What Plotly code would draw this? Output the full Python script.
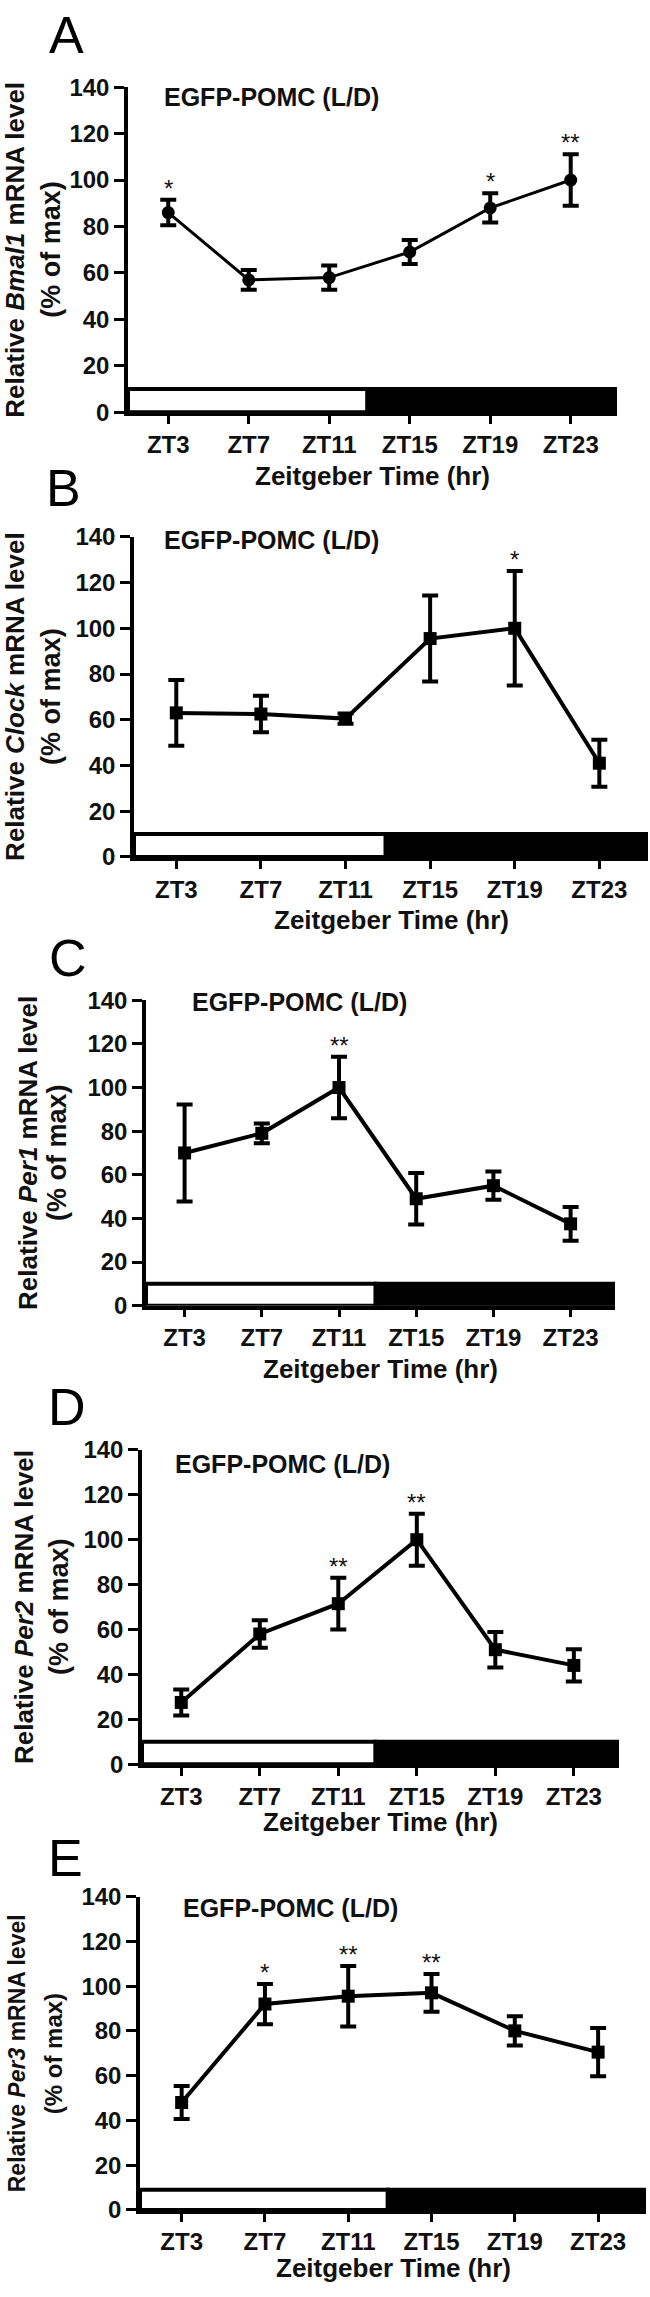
import plotly.graph_objects as go

# ---------------- data ----------------
zt_hours = [3, 7, 11, 15, 19, 23]
zt_labels = ["ZT3", "ZT7", "ZT11", "ZT15", "ZT19", "ZT23"]

bmal1_mean = [86, 57, 58, 69, 88, 100]
bmal1_sem = [5.5, 4.3, 5.2, 5.2, 6.3, 11.1]
bmal1_sig = ["*", "", "", "", "*", "**"]

clock_mean = [63, 62.5, 60.5, 95.5, 100, 41]
clock_sem = [14.4, 8.0, 2.2, 18.8, 25.0, 10.3]
clock_sig = ["", "", "", "", "*", ""]

per1_mean = [70, 79, 100, 49, 55, 37.5]
per1_sem = [22.2, 4.5, 14.1, 11.8, 6.5, 7.7]
per1_sig = ["", "", "**", "", "", ""]

per2_mean = [27.5, 58, 71.5, 100, 51, 44]
per2_sem = [5.8, 6.1, 11.5, 11.6, 7.9, 7.2]
per2_sig = ["", "", "**", "**", "", ""]

per3_mean = [48, 92, 95.5, 97, 80, 70.5]
per3_sem = [7.4, 9.0, 13.5, 8.4, 6.5, 10.8]
per3_sig = ["", "*", "**", "**", "", ""]

gene_names = ["Bmal1", "Clock", "Per1", "Per2", "Per3"]
panel_letters = ["A", "B", "C", "D", "E"]
group_label = "EGFP-POMC (L/D)"
x_title = "Zeitgeber Time (hr)"

# light/dark bar (ZT hours) and its height (% units)
lights_off_zt = 12.9
ld_bar_height = [10, 10, 10, 10, 9]

# ---------------- layout geometry (pixels) ----------------
W, H = 650, 2297
# left, right, top(=140), bottom(=0)
boxes = [
    (128, 617, 74, 403),
    (134, 648, 529, 853),
    (146, 615, 998, 1307),
    (142, 619, 1453, 1771),
    (140, 646, 1905, 2222),
]
x_range = [1, 25.3]
title_pos = [(162, 84), (162, 532), (190, 1000), (173, 1467), (181, 1917)]
xlabel_y = [467, 917, 1371, 1829, 2281]
ylab1_x = [15, 15, 28, 24, 17]
ylab2_x = [51, 51, 57, 59, 53]
ylab_size = [26, 26, 26, 26, 23]
letter_pos = [(47, 21), (44, 480), (47, 955), (46, 1410), (46, 1866)]
markers = ["circle", "square", "square", "square", "square"]
line_w = [3, 4, 4, 4, 4]

series = [
    (bmal1_mean, bmal1_sem, bmal1_sig),
    (clock_mean, clock_sem, clock_sig),
    (per1_mean, per1_sem, per1_sig),
    (per2_mean, per2_sem, per2_sig),
    (per3_mean, per3_sem, per3_sig),
]

FONT = "Liberation Sans, Arial, sans-serif"

fig = go.Figure()
annotations = []
shapes = []

def px_x(p):
    return p / W

def px_y(p):
    return 1 - p / H

for i, ((mean, sem, sig), box) in enumerate(zip(series, boxes)):
    n = "" if i == 0 else str(i + 1)
    xa = "x" + n
    ya = "y" + n
    l, r, t, b = box
    fig.add_trace(go.Scatter(
        x=zt_hours, y=mean,
        mode="lines+markers",
        line=dict(color="black", width=line_w[i]),
        marker=dict(symbol=markers[i], size=13, color="black"),
        error_y=dict(type="data", array=sem, visible=True,
                     color="black", thickness=4, width=8),
        xaxis=xa, yaxis=ya, showlegend=False, cliponaxis=False,
    ))
    fig.update_layout(**{
        ("xaxis" + n): dict(
            domain=[px_x(l), px_x(r)], range=x_range, anchor=ya,
            tickmode="array", tickvals=zt_hours, ticktext=zt_labels,
            showline=True, linecolor="black", linewidth=3.5,
            ticks="outside", ticklen=8, tickwidth=3, tickcolor="black",
            showgrid=False, zeroline=False,
            tickfont=dict(family=FONT, size=24, color="#111", weight="bold"),
        ),
        ("yaxis" + n): dict(
            domain=[px_y(b), px_y(t)], range=[0, 140], anchor=xa,
            tickmode="linear", tick0=0, dtick=20,
            showline=True, linecolor="black", linewidth=3.5,
            ticks="outside", ticklen=10, tickwidth=3, tickcolor="black",
            showgrid=False, zeroline=False,
            tickfont=dict(family=FONT, size=24, color="#111", weight="bold"),
        ),
    })
    # light / dark bar
    shapes.append(dict(type="rect", xref=xa, yref=ya,
                       x0=x_range[0], x1=lights_off_zt, y0=0, y1=ld_bar_height[i],
                       fillcolor="white", line=dict(color="black", width=4),
                       layer="above"))
    shapes.append(dict(type="rect", xref=xa, yref=ya,
                       x0=lights_off_zt, x1=x_range[1], y0=0, y1=ld_bar_height[i],
                       fillcolor="black", line=dict(color="black", width=4),
                       layer="above"))
    # significance stars
    for xv, m, s, st in zip(zt_hours, mean, sem, sig):
        if st:
            annotations.append(dict(
                x=xv, y=m + s, xref=xa, yref=ya, text=st, showarrow=False,
                yanchor="bottom", yshift=-4,
                font=dict(family=FONT, size=24, color="#111")))
    # group label
    tx, ty = title_pos[i]
    annotations.append(dict(
        x=px_x(tx), y=px_y(ty), xref="paper", yref="paper",
        text=group_label, showarrow=False, xanchor="left", yanchor="middle",
        font=dict(family=FONT, size=25, color="#111", weight="bold")))
    # x title
    annotations.append(dict(
        x=px_x((l + r) / 2), y=px_y(xlabel_y[i]), xref="paper", yref="paper",
        text=x_title, showarrow=False, xanchor="center", yanchor="middle",
        font=dict(family=FONT, size=26, color="#111", weight="bold")))
    # y title (two lines)
    yc = px_y((t + b) / 2)
    annotations.append(dict(
        x=px_x(ylab1_x[i]), y=yc, xref="paper", yref="paper",
        text="Relative <i>" + gene_names[i] + "</i> mRNA level",
        textangle=-90, showarrow=False, xanchor="center", yanchor="middle",
        font=dict(family=FONT, size=ylab_size[i], color="#111", weight="bold")))
    annotations.append(dict(
        x=px_x(ylab2_x[i]), y=yc, xref="paper", yref="paper",
        text="(% of max)",
        textangle=-90, showarrow=False, xanchor="center", yanchor="middle",
        font=dict(family=FONT, size=ylab_size[i] + 1, color="#111", weight="bold")))
    # panel letter
    lx, ly = letter_pos[i]
    annotations.append(dict(
        x=px_x(lx), y=px_y(ly), xref="paper", yref="paper",
        text=panel_letters[i], showarrow=False, xanchor="left", yanchor="middle",
        font=dict(family=FONT, size=52, color="black")))

fig.update_layout(
    width=W, height=H,
    margin=dict(l=0, r=0, t=0, b=0),
    paper_bgcolor="white", plot_bgcolor="white",
    annotations=annotations, shapes=shapes,
)

fig.write_html("out.html",
               config={"displayModeBar": False},
               post_script="document.body.style.margin='0';document.body.style.padding='0';")
